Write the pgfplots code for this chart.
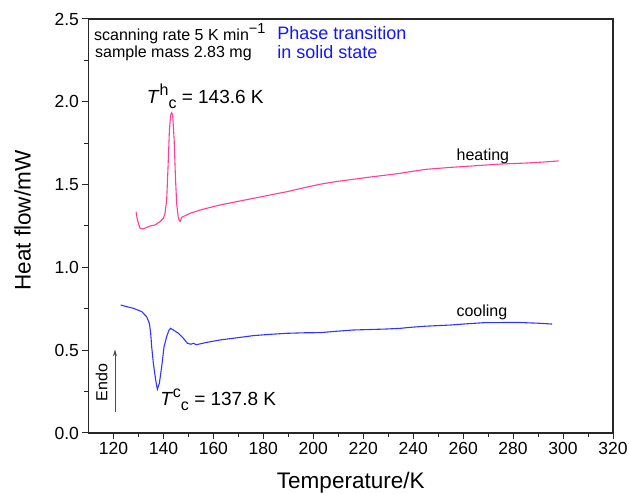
\documentclass[border=0pt]{standalone}
\usepackage{pgfplots}
\pgfplotsset{compat=1.18}
\usepackage{fontspec}
\setmainfont{Liberation Sans}
\usetikzlibrary{arrows.meta}
\definecolor{heat}{RGB}{255,61,154}
\definecolor{cool}{RGB}{51,51,255}
\definecolor{txtblue}{RGB}{20,20,255}
\newcommand{\Tlab}[1]{\textit{T}\raisebox{0.42em}{\fontsize{16}{16}\selectfont #1}\raisebox{-0.28em}{\fontsize{16}{16}\selectfont c}}

\begin{document}
\begin{tikzpicture}
\useasboundingbox (-88.5pt,-61pt) rectangle (540.5pt,433pt);
\begin{axis}[
  scale only axis, width=524.5pt, height=414pt,
  xmin=110, xmax=320, ymin=0, ymax=2.5,
  xtick={120,140,...,320}, ytick={0,0.5,...,2.5},
  minor x tick num=1, minor y tick num=1,
  tick align=outside, xtick pos=bottom, ytick pos=left,
  major tick length=6pt, minor tick length=4pt,
  y tick label style={/pgf/number format/fixed, /pgf/number format/fixed zerofill, /pgf/number format/precision=1},
  /pgf/number format/assume math mode=true,
  tick label style={font=\fontsize{17.5}{20}\selectfont},
  axis line style={line width=1.1pt, black!85},
  every tick/.style={line width=1pt, black!85},
  xlabel={Temperature/K}, ylabel={Heat flow/mW},
  xlabel style={at={(axis description cs:0.5,-0.1329)}, anchor=base, font=\fontsize{22.5}{26}\selectfont},
  ylabel style={at={(axis description cs:-0.1255,0.513)}, anchor=center, font=\fontsize{22.5}{26}\selectfont},
]
% heating
\addplot[heat, line width=1.1pt] coordinates {
(129.03,1.336) (129.6,1.285) (130.63,1.236) (131.96,1.232) (133.96,1.246)
(134.64,1.250) (136.64,1.256) (138.65,1.276) (139.98,1.296) (140.65,1.327)
(141.3,1.407) (141.85,1.608) (142.4,1.83) (142.9,1.92) (143.3,1.934)
(143.7,1.92) (144.3,1.77) (144.8,1.548) (145.3,1.387) (145.9,1.306)
(146.4,1.282) (146.7,1.278) (147.3,1.302) (150.7,1.327) (156,1.352)
(162.7,1.377) (170,1.399) (176.0,1.417) (183,1.438) (189.4,1.457)
(196,1.480) (202.7,1.502) (209,1.518) (216.1,1.532) (223,1.546)
(229.5,1.558) (234.8,1.568) (238.8,1.578) (245,1.592) (255,1.604)
(265,1.614) (274.8,1.624) (285,1.630) (292,1.636) (298.2,1.643)
};
% cooling
\addplot[cool, line width=1.1pt] coordinates {
(122.89,0.773) (125.5,0.762) (127.96,0.753) (131.3,0.733) (133.3,0.702)
(134.37,0.662) (134.9,0.602) (135.3,0.521) (135.97,0.421) (136.9,0.32)
(137.57,0.264) (138.37,0.30) (139.3,0.40) (140.25,0.521) (141.3,0.582)
(142.25,0.622) (142.9,0.632) (143.97,0.622) (145.98,0.602) (147.98,0.572)
(149.6,0.542) (151,0.536) (152.0,0.542) (152.3,0.540) (153.1,0.533)
(157,0.546) (162.7,0.562) (170,0.576) (176.0,0.588) (183,0.596)
(189.4,0.602) (196,0.605) (202.7,0.606) (209,0.614) (216.1,0.622)
(223,0.625) (229.5,0.628) (234.8,0.632) (238.8,0.638) (245,0.645)
(255,0.652) (262,0.660) (268.2,0.666) (276,0.667) (283,0.667)
(290,0.663) (295.6,0.658)
};
\node[anchor=base west, inner sep=0pt, font=\fontsize{16}{18}\selectfont] at (axis cs:112.2,2.373) {scanning rate 5 K min\raisebox{0.38em}{\fontsize{14.5}{14.5}\selectfont −1}};
\node[anchor=base west, inner sep=0pt, font=\fontsize{16}{18}\selectfont] at (axis cs:112.6,2.269) {sample mass 2.83 mg};
\node[anchor=base west, inner sep=0pt, text=txtblue, font=\fontsize{18}{20}\selectfont] at (axis cs:185.5,2.377) {Phase transition};
\node[anchor=base west, inner sep=0pt, text=txtblue, font=\fontsize{18}{20}\selectfont] at (axis cs:185.5,2.262) {in solid state};
\node[anchor=base west, inner sep=0pt, font=\fontsize{19}{22}\selectfont] at (axis cs:133.3,1.991) {\Tlab{h} = 143.6 K};
\node[anchor=base west, inner sep=0pt, font=\fontsize{19}{22}\selectfont] at (axis cs:138.65,0.169) {\Tlab{c} = 137.8 K};
\node[anchor=base, inner sep=0pt, font=\fontsize{16}{18}\selectfont] at (axis cs:267.9,1.644) {heating};
\node[anchor=base, inner sep=0pt, font=\fontsize{16}{18}\selectfont] at (axis cs:267.5,0.702) {cooling};
\node[rotate=90, inner sep=0pt, font=\fontsize{16}{18}\selectfont] at (axis cs:115.3,0.305) {Endo};
\draw[-{Stealth[length=7pt,width=4pt]}, black!70, line width=0.8pt] (axis cs:120.6,0.129) -- (axis cs:120.6,0.505);
\end{axis}
\end{tikzpicture}
\end{document}
